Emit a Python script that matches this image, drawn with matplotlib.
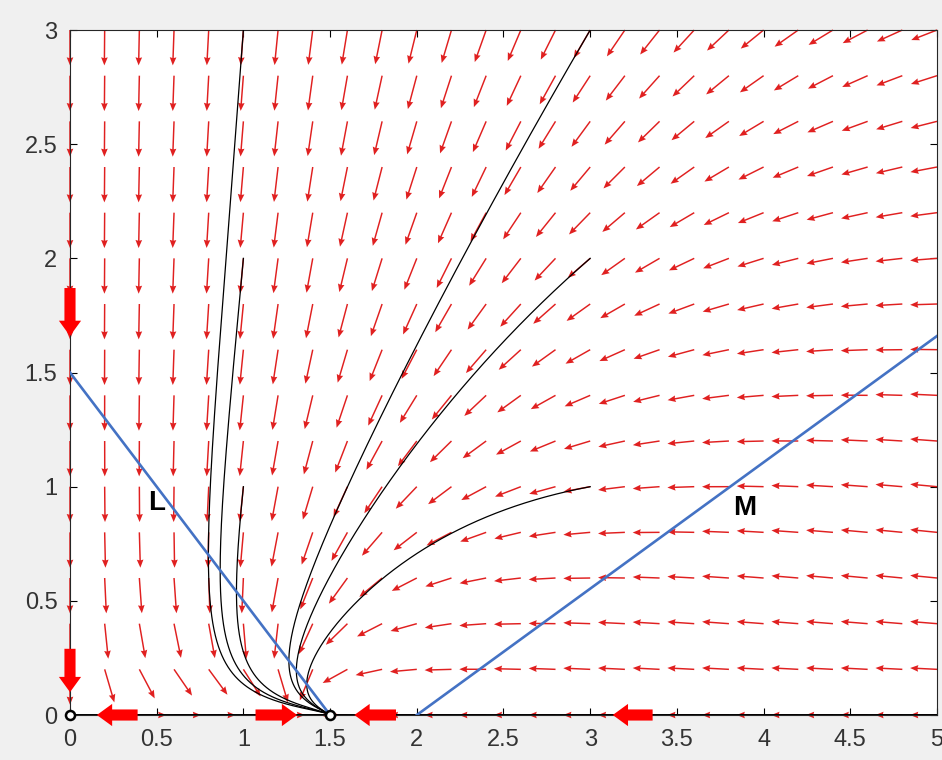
import numpy as np
import matplotlib.pyplot as plt

# model: x' = x*(r - x - y),  y' = y*(a*x - c - b*y)
r = 1.5
a, c, b = 1.32, 2.64, 2.39

# grid of the direction field
x_grid = np.arange(0, 5.01, 0.2)
y_grid = np.arange(0, 3.01, 0.2)

# starting points of the trajectories
start_x = [1, 1, 1, 3, 3, 3]
start_y = [3, 2, 1, 3, 2, 1]

# nullclines L and M (end points)
L_x = [0, 1.5]
L_y = [1.5, 0]
M_x = [2, 5]
M_y = [0, 1.66]

# equilibria
eq_x = [0, 1.5]
eq_y = [0, 0]

# thick direction arrows: (tail x, tail y, tip x, tip y)
big_arrows = [
    (0, 1.87, 0, 1.66),
    (0, 0.29, 0, 0.10),
    (0.39, 0, 0.155, 0),
    (1.07, 0, 1.31, 0),
    (1.88, 0, 1.64, 0),
    (3.36, 0, 3.13, 0),
]


def field(x, y):
    return x * (r - x - y), y * (a * x - c - b * y)


def solve(x0, y0, dt=0.001, t_end=15):
    pts = [(x0, y0)]
    x, y = x0, y0
    for _ in range(int(t_end / dt)):
        k1 = field(x, y)
        k2 = field(x + dt / 2 * k1[0], y + dt / 2 * k1[1])
        k3 = field(x + dt / 2 * k2[0], y + dt / 2 * k2[1])
        k4 = field(x + dt * k3[0], y + dt * k3[1])
        x += dt / 6 * (k1[0] + 2 * k2[0] + 2 * k3[0] + k4[0])
        y += dt / 6 * (k1[1] + 2 * k2[1] + 2 * k3[1] + k4[1])
        pts.append((x, y))
    return np.array(pts)


fig = plt.figure(figsize=(9.42, 7.6), dpi=100, facecolor="#f0f0f0")
ax = fig.add_axes([0.0743, 0.0592, 0.9204, 0.9013])

# direction field, unit length arrows
X, Y = np.meshgrid(x_grid, y_grid)
U, V = field(X, Y)
N = np.hypot(U, V)
N[N == 0] = np.nan
q = ax.quiver(X, Y, U / N, V / N, angles="xy", scale_units="xy", scale=1 / 0.155,
              color="#e02020", width=0.0017, headwidth=4.5, headlength=5.5,
              headaxislength=5, pivot="tail", zorder=2)
q.set_clip_on(False)

# trajectories
for x0, y0 in zip(start_x, start_y):
    p = solve(x0, y0)
    ax.plot(p[:, 0], p[:, 1], color="black", lw=0.9, zorder=3)

ax.plot([0, 5], [0, 0], color="black", lw=1.4, zorder=3)
ax.plot(L_x, L_y, color="#4472c4", lw=1.9, zorder=4)
ax.plot(M_x, M_y, color="#4472c4", lw=1.9, zorder=4)

for tx, ty, hx, hy in big_arrows:
    ax.annotate("", xy=(hx, hy), xytext=(tx, ty),
                arrowprops=dict(arrowstyle="simple,head_width=1.6,head_length=1.1,tail_width=0.8",
                                mutation_scale=10, color="red", lw=0,
                                shrinkA=0, shrinkB=0), zorder=5)

ax.plot(eq_x, eq_y, "o", ms=6.5, mfc="white", mec="black", mew=1.8,
        zorder=6, clip_on=False)

ax.text(0.50, 0.93, "L", fontsize=20, fontweight="bold", ha="center",
        va="center", family="Liberation Sans")
ax.text(3.89, 0.905, "M", fontsize=20, fontweight="bold", ha="center",
        va="center", family="Liberation Sans")

ax.set_xlim(0, 5)
ax.set_ylim(0, 3)
ax.set_xticks(np.arange(0, 5.01, 0.5))
ax.set_yticks(np.arange(0, 3.01, 0.5))
ax.set_xticklabels(["0", "0.5", "1", "1.5", "2", "2.5", "3", "3.5", "4", "4.5", "5"])
ax.set_yticklabels(["0", "0.5", "1", "1.5", "2", "2.5", "3"])
ax.tick_params(direction="in", length=5, width=0.8, top=True, right=True,
               labelsize=17, labelcolor="#333333")
ax.tick_params(axis="x", pad=10)
ax.tick_params(axis="y", pad=9)
for lab in ax.get_xticklabels() + ax.get_yticklabels():
    lab.set_family("Liberation Sans")
for s in ax.spines.values():
    s.set_color("#262626")
    s.set_linewidth(0.8)

fig.savefig("out.png", dpi=100, facecolor=fig.get_facecolor())
